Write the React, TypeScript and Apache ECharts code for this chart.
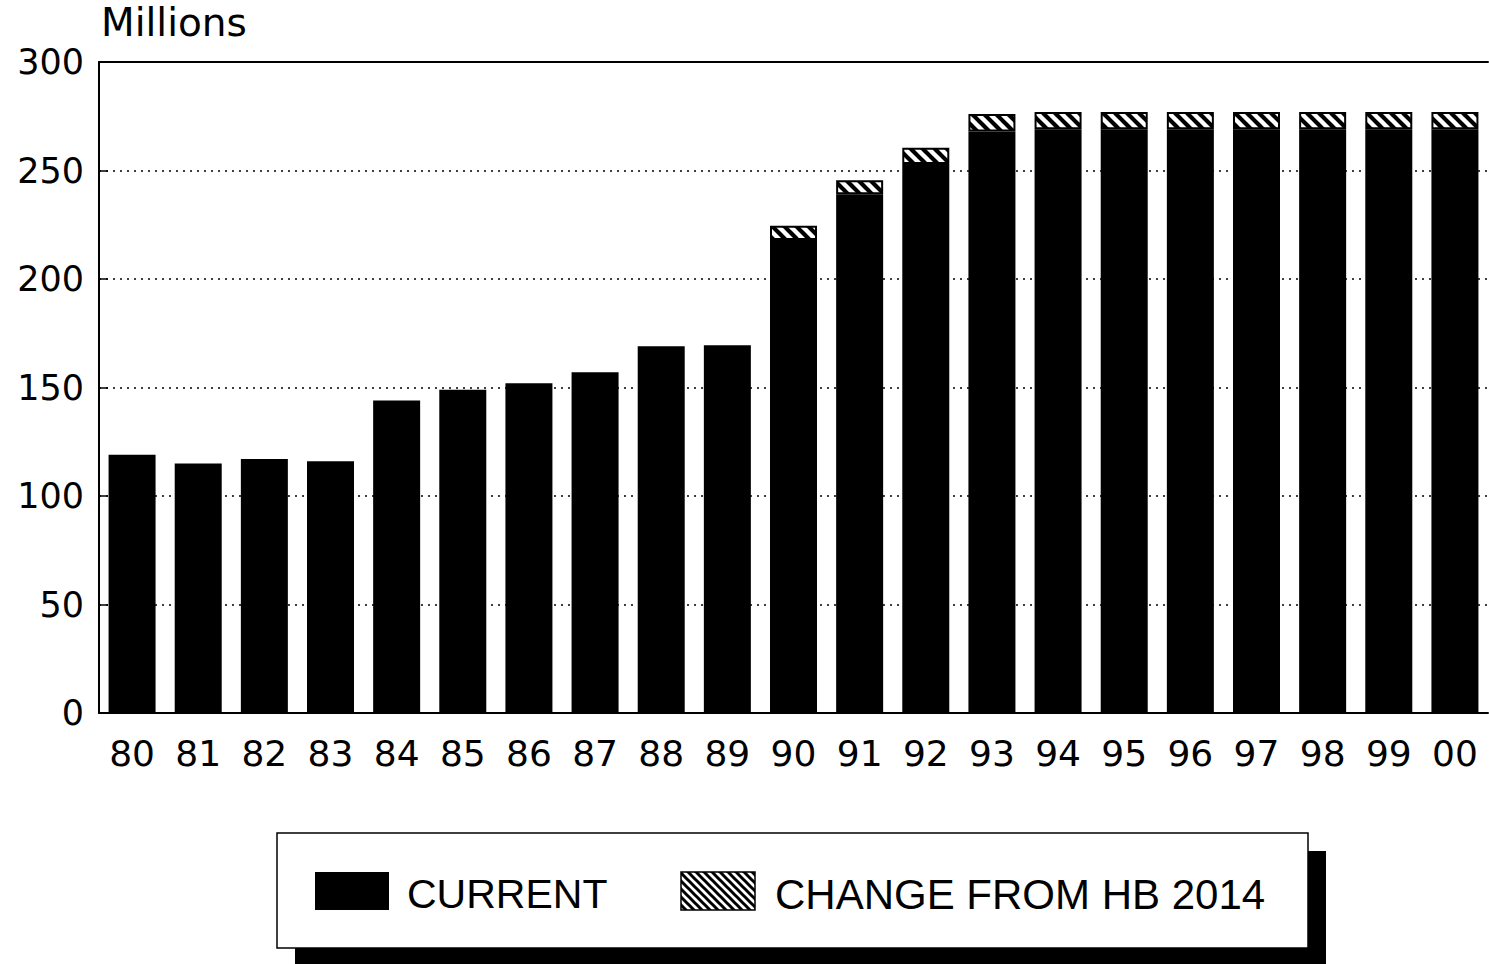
import React, { useEffect, useRef } from "react";
import * as echarts from "echarts";

const years = ["80", "81", "82", "83", "84", "85", "86", "87", "88", "89", "90", "91", "92", "93", "94", "95", "96", "97", "98", "99", "00"];
const currentValues = [119, 115, 117, 116, 144, 149, 152, 157, 169, 169.5, 218, 239, 253, 268, 269, 269, 269, 269, 269, 269, 269];
const changeValues: (number | string)[] = ["-", "-", "-", "-", "-", "-", "-", "-", "-", "-", 6.5, 6.5, 7.5, 8, 8, 8, 8, 8, 8, 8, 8];
const yAxisTitle = "Millions";
const legendLabels = ["CURRENT", "CHANGE FROM HB 2014"];
const yMin = 0;
const yMax = 300;
const yStep = 50;

function makeHatch(size: number, bg: string, fg: string, lw: number) {
  const c = document.createElement("canvas");
  c.width = size;
  c.height = size;
  const ctx = c.getContext("2d")!;
  ctx.fillStyle = bg;
  ctx.fillRect(0, 0, size, size);
  ctx.strokeStyle = fg;
  ctx.lineWidth = lw;
  for (const o of [-size, 0, size]) {
    ctx.beginPath();
    ctx.moveTo(o - size, -size);
    ctx.lineTo(o + 2 * size, 2 * size);
    ctx.stroke();
  }
  return c;
}

export default function App() {
  const ref = useRef<HTMLDivElement>(null);
  useEffect(() => {
    document.body.style.margin = "0";
    if (!ref.current) return;
    const chart = echarts.init(ref.current, undefined, { renderer: "svg" });
    const barHatch = makeHatch(12, "#000", "#fff", 4.4);
    const legendHatch = makeHatch(8, "#fff", "#000", 3);
    const numFont = "DejaVu Sans";
    chart.setOption({
      animation: false,
      backgroundColor: "#fff",
      grid: { left: 99, top: 62, right: 1, bottom: 251, containLabel: false },
      xAxis: [
        {
          type: "category",
          data: years,
          position: "bottom",
          axisLine: { show: true, lineStyle: { color: "#000", width: 2 } },
          axisTick: { show: false },
          axisLabel: { color: "#000", fontFamily: numFont, fontSize: 36, margin: 22 },
        },
        {
          type: "category",
          data: years,
          position: "top",
          axisLine: { show: true, lineStyle: { color: "#000", width: 2 } },
          axisTick: { show: false },
          axisLabel: { show: false },
        },
      ],
      yAxis: {
        type: "value",
        min: yMin,
        max: yMax,
        interval: yStep,
        name: yAxisTitle,
        nameLocation: "end",
        nameGap: 20,
        nameTextStyle: { color: "#000", fontFamily: numFont, fontSize: 39, align: "left", verticalAlign: "bottom", padding: [0, 0, 0, 2] },
        axisLine: { show: true, lineStyle: { color: "#000", width: 2 } },
        axisTick: { show: true, inside: true, length: 9, lineStyle: { color: "#000", width: 1.5 } },
        axisLabel: { color: "#000", fontFamily: numFont, fontSize: 35, margin: 15 },
        splitLine: { show: true, lineStyle: { color: "#000", width: 1.5, type: [2, 5] } },
      },
      series: [
        {
          name: legendLabels[0],
          type: "bar",
          stack: "total",
          data: currentValues,
          barWidth: 47,
          itemStyle: { color: "#000" },
        },
        {
          name: legendLabels[1],
          type: "bar",
          stack: "total",
          data: changeValues,
          barWidth: 47,
          itemStyle: { color: { image: barHatch, repeat: "repeat" }, borderColor: "#000", borderWidth: 2 },
        },
      ],
      graphic: [
        { type: "rect", shape: { x: 295, y: 851, width: 1031, height: 113 }, style: { fill: "#000" }, z: 10 },
        { type: "rect", shape: { x: 277, y: 833, width: 1031, height: 115 }, style: { fill: "#fff", stroke: "#000", lineWidth: 1.5 }, z: 11 },
        { type: "rect", shape: { x: 315, y: 872, width: 74, height: 38 }, style: { fill: "#000" }, z: 12 },
        { type: "text", x: 407, y: 894, style: { text: legendLabels[0], fill: "#000", font: "41px 'Liberation Sans'", verticalAlign: "middle" }, z: 12 },
        { type: "rect", shape: { x: 681, y: 872, width: 74, height: 38 }, style: { fill: { image: legendHatch, repeat: "repeat" } as any, stroke: "#000", lineWidth: 1.5 }, z: 12 },
        { type: "text", x: 775, y: 894, style: { text: legendLabels[1], fill: "#000", font: "42px 'Liberation Sans'", verticalAlign: "middle" }, z: 12 },
      ],
    });
    return () => chart.dispose();
  }, []);
  return <div ref={ref} style={{ width: 1489, height: 964 }} />;
}
